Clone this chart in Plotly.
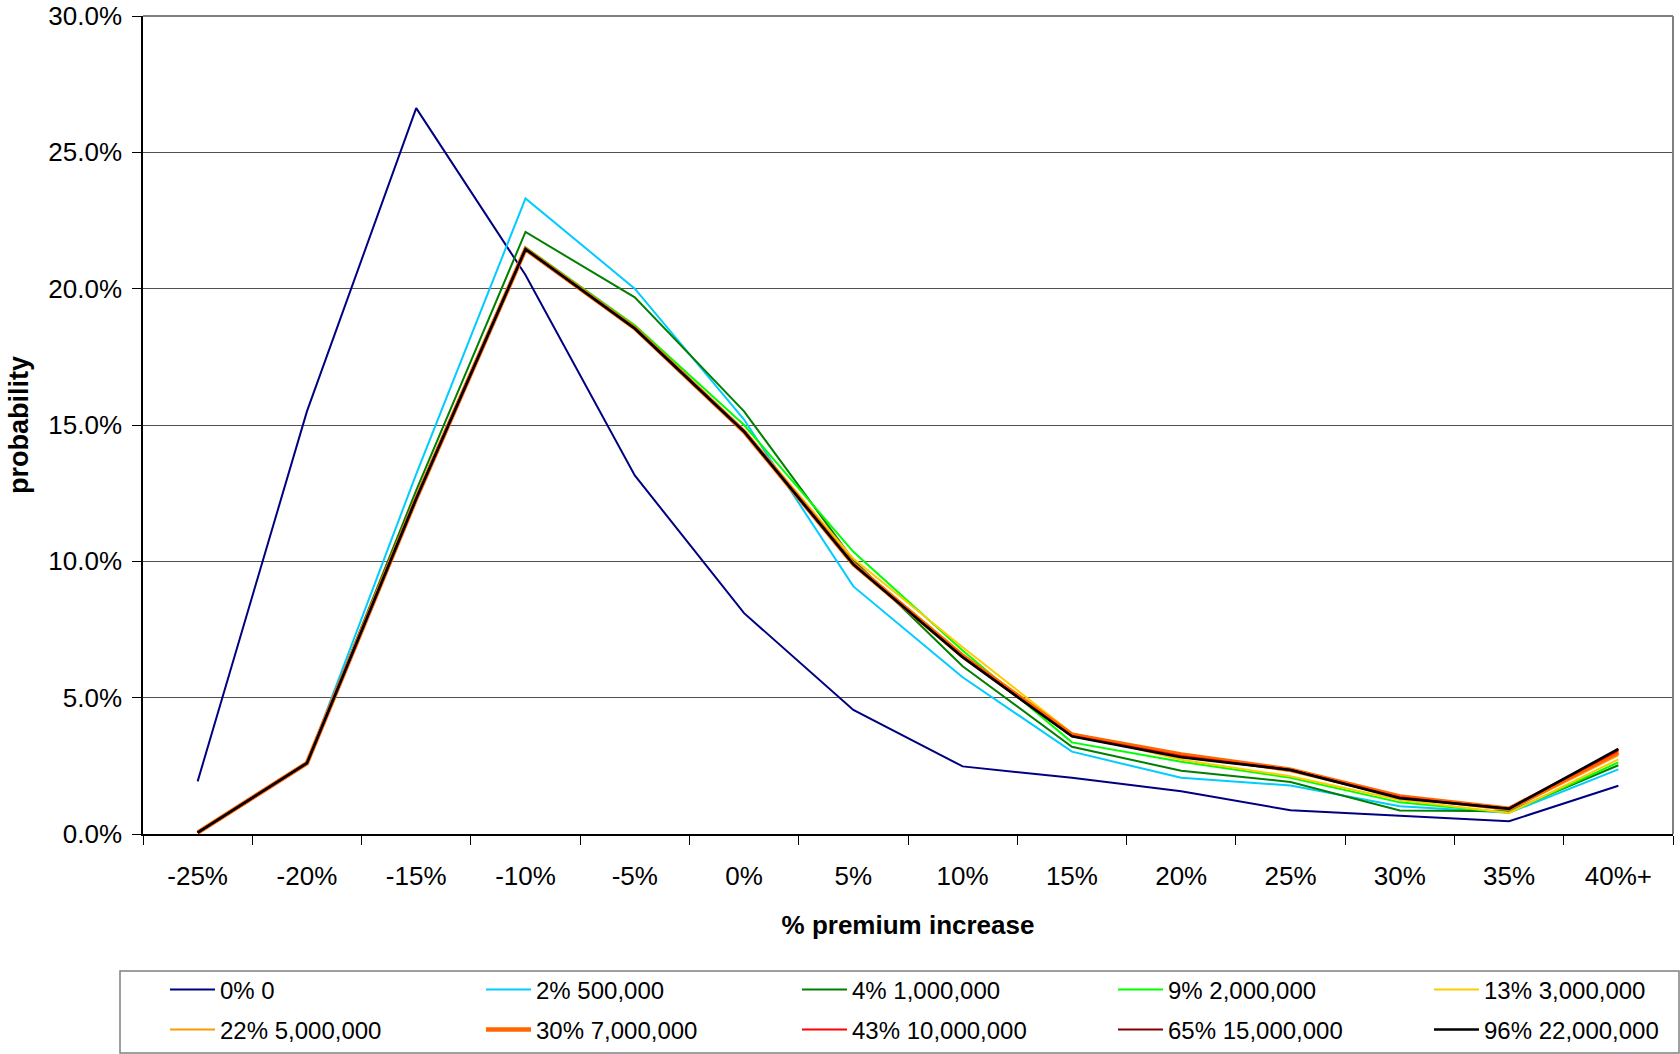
import plotly.graph_objects as go

# Premium-increase buckets on the x axis
categories = ["-25%", "-20%", "-15%", "-10%", "-5%", "0%", "5%", "10%",
              "15%", "20%", "25%", "30%", "35%", "40%+"]

# Probability (%) of each premium increase, one list per retention scenario
p_0 = [1.93, 15.5, 26.62, 20.5, 13.15, 8.1, 4.55, 2.48, 2.06, 1.57, 0.87, 0.68, 0.47, 1.77]
p_500k = [0.05, 2.6, 13.2, 23.31, 20.0, 15.2, 9.08, 5.75, 3.02, 2.06, 1.78, 1.02, 0.78, 2.37]
p_1m = [0.05, 2.6, 12.6, 22.08, 19.68, 15.5, 10.05, 6.15, 3.2, 2.32, 1.91, 0.86, 0.83, 2.52]
p_2m = [0.05, 2.6, 12.35, 21.52, 18.66, 15.0, 10.35, 6.73, 3.36, 2.65, 2.06, 1.16, 0.78, 2.63]
p_3m = [0.05, 2.6, 12.3, 21.48, 18.58, 14.8, 10.1, 6.85, 3.7, 2.72, 2.12, 1.25, 0.77, 2.74]
p_5m = [0.05, 2.6, 12.3, 21.46, 18.56, 14.78, 9.95, 6.6, 3.68, 2.88, 2.3, 1.35, 0.88, 2.89]
p_7m = [0.05, 2.6, 12.3, 21.45, 18.55, 14.76, 9.9, 6.52, 3.64, 2.92, 2.36, 1.38, 0.93, 3.0]
p_10m = [0.05, 2.6, 12.3, 21.45, 18.54, 14.76, 9.89, 6.5, 3.6, 2.86, 2.36, 1.35, 0.93, 3.06]
p_15m = [0.05, 2.6, 12.3, 21.45, 18.54, 14.76, 9.89, 6.49, 3.59, 2.83, 2.35, 1.33, 0.93, 3.1]
p_22m = [0.05, 2.6, 12.3, 21.45, 18.54, 14.76, 9.89, 6.48, 3.58, 2.81, 2.35, 1.31, 0.93, 3.12]

series_names = ["0% 0", "2% 500,000", "4% 1,000,000", "9% 2,000,000", "13% 3,000,000",
                "22% 5,000,000", "30% 7,000,000", "43% 10,000,000", "65% 15,000,000",
                "96% 22,000,000"]
series_values = [p_0, p_500k, p_1m, p_2m, p_3m, p_5m, p_7m, p_10m, p_15m, p_22m]

colors = ["#000080", "#00CCFF", "#008000", "#00FF00", "#FFCC00",
          "#FF9900", "#FF6600", "#FF0000", "#800000", "#000000"]
widths = [2, 2, 2, 2, 2, 2, 4.5, 2, 2, 2.5]

FONT = "Liberation Sans, Arial, sans-serif"

# pixel geometry of the plotting area
W, H = 1680, 1054
L, R, T, B = 143, 1673, 16, 834
pw, ph = R - L, B - T


def px(x):
    return (x - L) / pw


def py(y):
    return (B - y) / ph


fig = go.Figure()
for i, (name, vals) in enumerate(zip(series_names, series_values)):
    fig.add_trace(go.Scatter(
        x=categories, y=vals, name=name, mode="lines",
        line=dict(color=colors[i], width=widths[i]),
        legend="legend" if i < 5 else "legend2",
    ))

# two single-row legends, five entries each, sharing one outlined box
legend_common = dict(
    orientation="h", xanchor="left", yanchor="middle", x=-0.00001,
    indentation=22, itemwidth=45,
    font=dict(family=FONT, size=24, color="#000000"),
    bgcolor="rgba(0,0,0,0)", borderwidth=0,
    entrywidth=234, entrywidthmode="pixels",
    traceorder="normal", itemclick=False, itemdoubleclick=False,
)

fig.update_layout(
    width=W, height=H,
    margin=dict(l=L, r=W - R, t=T, b=H - B, autoexpand=False),
    paper_bgcolor="white", plot_bgcolor="white",
    font=dict(family=FONT, size=26, color="#000000"),
    showlegend=True,
    legend=dict(y=py(990), **legend_common),
    legend2=dict(y=py(1030), **legend_common),
    xaxis=dict(
        type="category", range=[-0.5, len(categories) - 0.5],
        tickson="boundaries", ticks="outside", ticklen=9, tickwidth=1,
        tickcolor="#000000", showline=True, linecolor="#000000", linewidth=1.5,
        showgrid=False, tickfont=dict(family=FONT, size=26),
        ticklabelstandoff=18,
        title=dict(text="<b>% premium increase</b>", font=dict(family=FONT, size=26),
                   standoff=26),
    ),
    yaxis=dict(
        range=[0, 30], dtick=5, tickformat=".1f", ticksuffix="%",
        ticks="outside", ticklen=9, tickwidth=1, tickcolor="#000000",
        showline=True, linecolor="#000000", linewidth=1.5,
        showgrid=True, gridcolor="#505050", gridwidth=1, zeroline=False,
        tickfont=dict(family=FONT, size=26), ticklabelstandoff=5,
        title=dict(text="<b>probability</b>", font=dict(family=FONT, size=27),
                   standoff=12),
    ),
    shapes=[
        # frame: top and right edges of the plotting area
        dict(type="line", xref="paper", yref="paper", x0=0, x1=1, y0=1, y1=1,
             line=dict(color="#808080", width=2)),
        dict(type="line", xref="paper", yref="paper", x0=1, x1=1, y0=0, y1=1,
             line=dict(color="#808080", width=2)),
        # legend box
        dict(type="rect", xref="paper", yref="paper",
             x0=px(120), x1=px(1679), y0=py(971), y1=py(1053),
             line=dict(color="#808080", width=1.5), fillcolor="rgba(0,0,0,0)",
             layer="below"),
    ],
)

fig.write_html("out.html")
